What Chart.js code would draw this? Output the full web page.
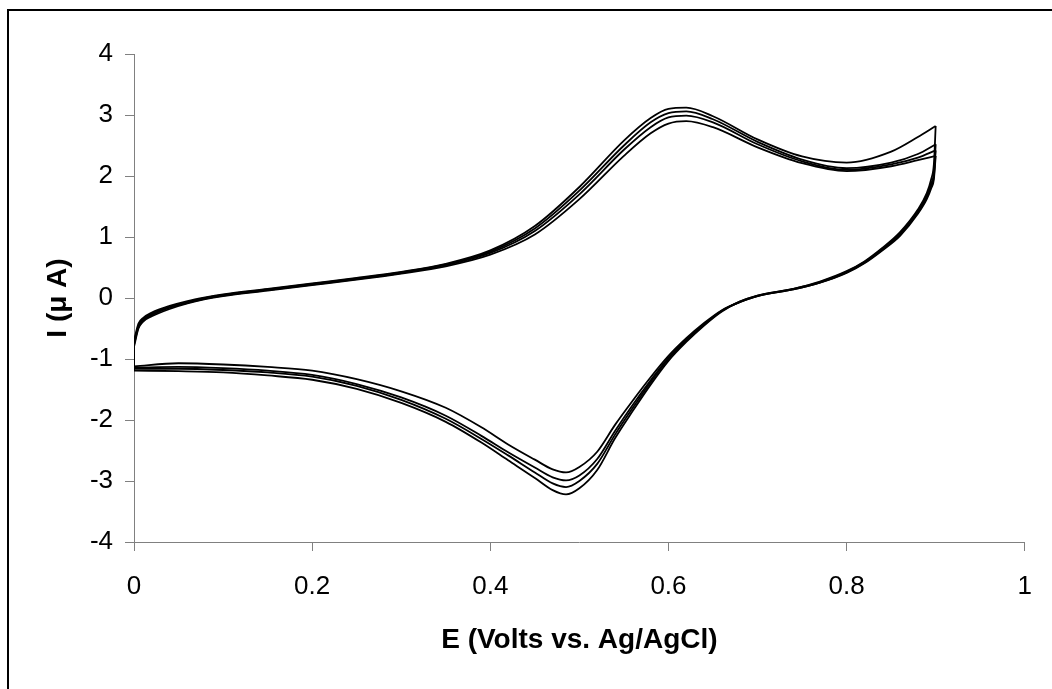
<!DOCTYPE html>
<html>
<head>
<meta charset="utf-8">
<title>Cyclic voltammogram</title>
<script src="https://cdn.jsdelivr.net/npm/chart.js@4"></script>
<style>
  html, body { margin: 0; padding: 0; background: #fff; overflow: hidden; }
  #wrap { position: relative; width: 1052px; height: 689px; }
  #frame {
    position: absolute; left: 7px; top: 9px; width: 1100px; height: 800px;
    border: 2px solid #000; box-sizing: border-box; pointer-events: none;
  }
</style>
</head>
<body>
<div id="wrap">
  <canvas id="chart"></canvas>
  <div id="frame"></div>
</div>
<script>
'use strict';

// potential steps (V vs Ag/AgCl), forward sweep 0 -> 0.9 V
const E_FWD = [0, 0.005, 0.01, 0.02, 0.04, 0.06, 0.08, 0.1, 0.15, 0.2, 0.25, 0.3, 0.35,
  0.4, 0.45, 0.5, 0.55, 0.58, 0.6, 0.62, 0.65, 0.7, 0.75, 0.8, 0.85, 0.88, 0.9];
// reverse sweep 0.9 -> 0 V
const E_REV = [0.9, 0.898, 0.895, 0.89, 0.88, 0.86, 0.84, 0.82, 0.8, 0.77, 0.74, 0.7, 0.68, 0.66,
  0.64, 0.62, 0.6, 0.58, 0.56, 0.54, 0.52, 0.5, 0.485, 0.47, 0.45, 0.42, 0.39, 0.35, 0.3,
  0.25, 0.2, 0.15, 0.1, 0.05, 0];

// current (uA) for each scan cycle
const cycle1Fwd = [-0.70, -0.42, -0.33, -0.24, -0.13, -0.05, 0.01, 0.06, 0.15, 0.24, 0.33, 0.43, 0.56,
  0.78, 1.18, 1.82, 2.58, 2.95, 3.10, 3.12, 2.98, 2.60, 2.32, 2.22, 2.40, 2.64, 2.82];
const cycle2Fwd = [-0.74, -0.45, -0.35, -0.26, -0.15, -0.07, 0.00, 0.05, 0.14, 0.23, 0.32, 0.42, 0.55,
  0.76, 1.14, 1.76, 2.50, 2.88, 3.03, 3.06, 2.93, 2.56, 2.27, 2.13, 2.22, 2.36, 2.52];
const cycle3Fwd = [-0.77, -0.48, -0.37, -0.28, -0.16, -0.08, -0.01, 0.04, 0.13, 0.22, 0.31, 0.41, 0.54,
  0.74, 1.10, 1.70, 2.43, 2.80, 2.96, 2.99, 2.88, 2.52, 2.24, 2.10, 2.19, 2.30, 2.42];
const cycle4Fwd = [-0.80, -0.50, -0.39, -0.30, -0.18, -0.09, -0.02, 0.03, 0.12, 0.21, 0.30, 0.40, 0.52,
  0.71, 1.04, 1.62, 2.33, 2.70, 2.86, 2.90, 2.80, 2.47, 2.21, 2.08, 2.16, 2.26, 2.33];

const cycle1Rev = [2.82, 2.20, 1.95, 1.72, 1.45, 1.08, 0.82, 0.60, 0.44, 0.27, 0.15, 0.04, -0.06, -0.22,
  -0.45, -0.72, -1.03, -1.42, -1.85, -2.30, -2.82, -3.12, -3.22, -3.15, -2.95, -2.66, -2.37, -2.03,
  -1.72, -1.49, -1.34, -1.27, -1.22, -1.20, -1.19];
const cycle2Rev = [2.52, 2.05, 1.88, 1.68, 1.42, 1.06, 0.80, 0.59, 0.43, 0.26, 0.15, 0.04, -0.06, -0.21,
  -0.44, -0.70, -1.00, -1.38, -1.80, -2.24, -2.72, -3.00, -3.10, -3.04, -2.86, -2.58, -2.31, -1.98,
  -1.67, -1.44, -1.29, -1.22, -1.18, -1.16, -1.16];
const cycle3Rev = [2.42, 2.00, 1.84, 1.65, 1.40, 1.04, 0.79, 0.58, 0.42, 0.25, 0.14, 0.03, -0.07, -0.21,
  -0.43, -0.68, -0.98, -1.35, -1.75, -2.18, -2.64, -2.91, -2.99, -2.94, -2.78, -2.53, -2.26, -1.93,
  -1.63, -1.41, -1.26, -1.19, -1.15, -1.13, -1.14];
const cycle4Rev = [2.33, 1.95, 1.80, 1.62, 1.38, 1.02, 0.78, 0.57, 0.41, 0.25, 0.14, 0.03, -0.07, -0.20,
  -0.41, -0.66, -0.95, -1.30, -1.68, -2.08, -2.52, -2.77, -2.86, -2.81, -2.65, -2.40, -2.12, -1.80,
  -1.53, -1.33, -1.19, -1.13, -1.09, -1.07, -1.12];

const cycles = [
  [cycle1Fwd, cycle1Rev],
  [cycle2Fwd, cycle2Rev],
  [cycle3Fwd, cycle3Rev],
  [cycle4Fwd, cycle4Rev]
];

const X_TICKS = [0, 0.2, 0.4, 0.6, 0.8, 1];
const Y_TICKS = [-4, -3, -2, -1, 0, 1, 2, 3, 4];

const FONT = '"Liberation Sans", Arial, sans-serif';

function trace(points, smooth) {
  return {
    data: points,
    showLine: true,
    borderColor: '#000',
    borderWidth: 1.8,
    pointRadius: 0,
    tension: smooth ? 0.4 : 0,
    cubicInterpolationMode: smooth ? 'monotone' : 'default',
    fill: false
  };
}

// each sweep is its own monotone trace; a short straight piece joins
// the end of one cycle to the start of the next at 0 V
function buildDatasets() {
  const sets = [];
  let prevEnd = null;
  cycles.forEach(([fwd, rev]) => {
    const fwdPts = E_FWD.map((e, i) => ({ x: e, y: fwd[i] }));
    const revPts = E_REV.map((e, i) => ({ x: e, y: rev[i] }));
    if (prevEnd) sets.push(trace([prevEnd, fwdPts[0]], false));
    sets.push(trace(fwdPts, true));
    sets.push(trace(revPts, true));
    prevEnd = revPts[revPts.length - 1];
  });
  return sets;
}

const axisGrey = '#808080';

const chartConfig = {
  type: 'scatter',
  data: { datasets: buildDatasets() },
  options: {
    responsive: true,
    maintainAspectRatio: false,
    animation: false,
    layout: { padding: { left: 0, right: 26, top: 54, bottom: 0 } },
    plugins: {
      legend: { display: false },
      tooltip: { enabled: false }
    },
    scales: {
      x: {
        type: 'linear',
        min: 0,
        max: 1,
        afterFit: s => { s.height = 147; },
        afterBuildTicks: s => { s.ticks = X_TICKS.map(v => ({ value: v })); },
        grid: { drawOnChartArea: false, tickLength: 9, color: axisGrey },
        border: { color: axisGrey, width: 1 },
        ticks: {
          color: '#000',
          padding: 20,
          maxRotation: 0,
          callback: v => String(v),
          font: { family: FONT, size: 26 }
        },
        title: {
          display: true,
          text: 'E (Volts vs. Ag/AgCl)',
          color: '#000',
          font: { family: FONT, size: 28, weight: 'bold' },
          padding: { top: 0, bottom: 32 }
        }
      },
      y: {
        type: 'linear',
        min: -4,
        max: 4,
        afterFit: s => { s.width = 134; },
        afterBuildTicks: s => { s.ticks = Y_TICKS.map(v => ({ value: v })); },
        grid: { drawOnChartArea: false, tickLength: 9, color: axisGrey },
        border: { color: axisGrey, width: 1 },
        ticks: {
          color: '#000',
          padding: 12,
          callback: v => String(v),
          font: { family: FONT, size: 26 }
        },
        title: {
          display: true,
          text: 'I (\u03bc A)',
          color: '#000',
          font: { family: FONT, size: 28, weight: 'bold' },
          padding: { top: 41, bottom: 0 }
        }
      }
    }
  }
};

const myChart = new Chart(document.getElementById('chart'), chartConfig);
</script>
</body>
</html>
